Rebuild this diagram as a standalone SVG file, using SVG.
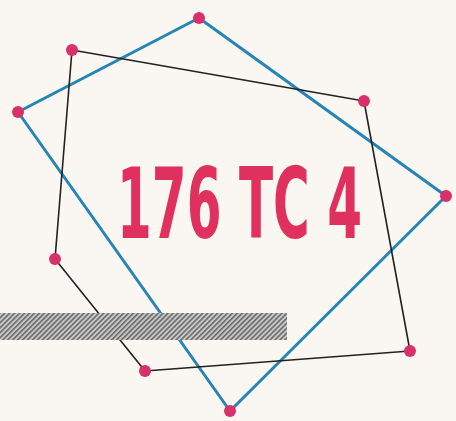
<svg xmlns="http://www.w3.org/2000/svg" width="456" height="421" viewBox="0 0 456 421">
<style>
.blue{fill:none;stroke:#2585b5;stroke-width:3;stroke-linejoin:round}
.black{fill:none;stroke:#222;stroke-width:1.6;stroke-linejoin:round}
.dot{fill:#d8306a}
.label{font-family:"DejaVu Sans Condensed","Liberation Sans",sans-serif;font-weight:bold;fill:#e0305e}
</style>
<defs>
<pattern id="hatch" width="3.5" height="3.5" patternUnits="userSpaceOnUse" patternTransform="rotate(45)">
<rect width="3.5" height="3.5" fill="#c8c8c8"/>
<rect width="1.6" height="3.5" fill="#6a6a6a"/>
</pattern>
</defs>
<rect width="456" height="421" fill="#faf6f2"/>
<g id="connectors">
<polygon class="blue" points="199,18 446,196 230,411 18,112"/>
<polygon class="black" points="72,50 364,101 410,351 145,371 55,259"/>
</g>
<rect id="bar" x="0" y="313" width="287" height="27" fill="url(#hatch)"/>
<g id="dots">
<circle class="dot" cx="199" cy="18" r="6"/>
<circle class="dot" cx="446" cy="196" r="6"/>
<circle class="dot" cx="230" cy="411" r="6"/>
<circle class="dot" cx="18" cy="112" r="6"/>
<circle class="dot" cx="72" cy="50" r="6"/>
<circle class="dot" cx="364" cy="101" r="6"/>
<circle class="dot" cx="410" cy="351" r="6"/>
<circle class="dot" cx="145" cy="371" r="6"/>
<circle class="dot" cx="55" cy="259" r="6"/>
</g>
<g id="title">
<text class="label" x="117" y="238" font-size="98" textLength="245" lengthAdjust="spacingAndGlyphs">176 TC 4</text>
</g>
</svg>
